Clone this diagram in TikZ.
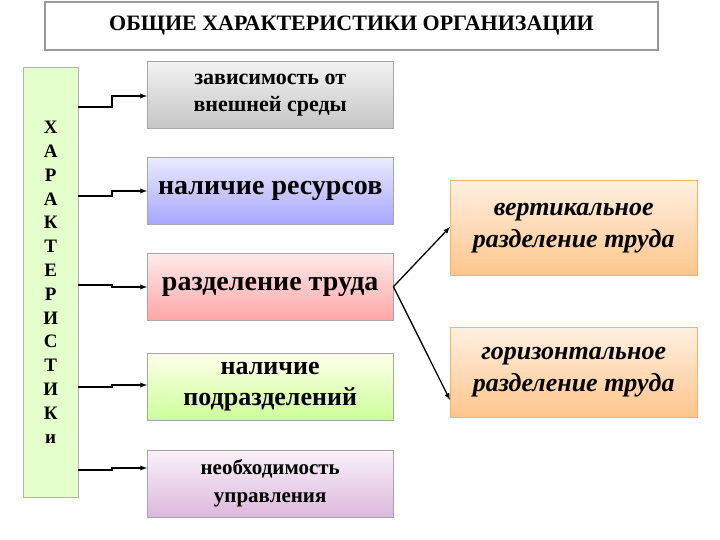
\documentclass[tikz,border=0pt]{standalone}
\usepackage{fontspec}
\setmainfont{Liberation Serif}
\begin{document}
\begin{tikzpicture}[x=1pt,y=-1pt,
 bx/.style={draw=gray!70,minimum width=246pt,minimum height=67pt,anchor=north west,align=center,inner sep=2pt,font=\bfseries},
 rb/.style={draw=orange!60,top color=orange!12,bottom color=orange!45,minimum width=247pt,anchor=north west,align=center,font=\bfseries\itshape\fontsize{26}{32}\selectfont},
 con/.style={-latex,line width=1.3pt}]
\useasboundingbox (0,0) rectangle (720,540);
\draw[gray!80,line width=1.3pt] (45,2) rectangle (658,50);
\node[font=\bfseries\fontsize{22}{26}\selectfont] (t) at (351.5,26) {ОБЩИЕ ХАРАКТЕРИСТИКИ ОРГАНИЗАЦИИ};
\node[draw=gray!60,fill=green!50!yellow!20,minimum width=55pt,minimum height=430pt,anchor=north west,align=center,font=\bfseries\fontsize{19}{23.8}\selectfont] (l) at (23,67) {Х\\А\\Р\\А\\К\\Т\\Е\\Р\\И\\С\\Т\\И\\К\\и};
\node[bx,top color=gray!10,bottom color=gray!45,font=\bfseries\fontsize{22}{27}\selectfont] (b1) at (147,61) {зависимость от\\внешней среды};
\node[bx,top color=blue!8,bottom color=blue!35,font=\bfseries\fontsize{28}{34}\selectfont] (b2) at (147,157) {наличие ресурсов};
\node[bx,top color=red!8,bottom color=red!35,font=\bfseries\fontsize{28}{34}\selectfont] (b3) at (147,253) {разделение труда};
\node[bx,top color=green!5!yellow!8,bottom color=green!50!yellow!40,font=\bfseries\fontsize{26}{31}\selectfont] (b4) at (147,353) {наличие\\подразделений};
\node[bx,top color=violet!5,bottom color=violet!28,font=\bfseries\fontsize{21}{28}\selectfont] (b5) at (147,450) {необходимость\\управления};
\node[rb,minimum height=95pt] (r1) at (450,180) {вертикальное\\разделение труда};
\node[rb,minimum height=90pt] (r2) at (450,327) {горизонтальное\\разделение труда};
\draw[con] (l.east |- 0,107) -- (112,107) -- (112,96) -- (b1.west |- 0,96);
\draw[con] (l.east |- 0,196) -- (112,196) -- (112,191) -- (b2.west |- 0,191);
\draw[con] (l.east |- 0,285) -- (112,285) -- (112,287) -- (b3.west |- 0,287);
\draw[con] (l.east |- 0,387) -- (112,387) -- (112,385) -- (b4.west |- 0,385);
\draw[con] (l.east |- 0,470) -- (112,470) -- (112,468) -- (b5.west |- 0,468);
\draw[con] (b3.east) -- (r1.west |- 0,227);
\draw[con] (b3.east) -- (r2.west |- 0,400);
\end{tikzpicture}
\end{document}
